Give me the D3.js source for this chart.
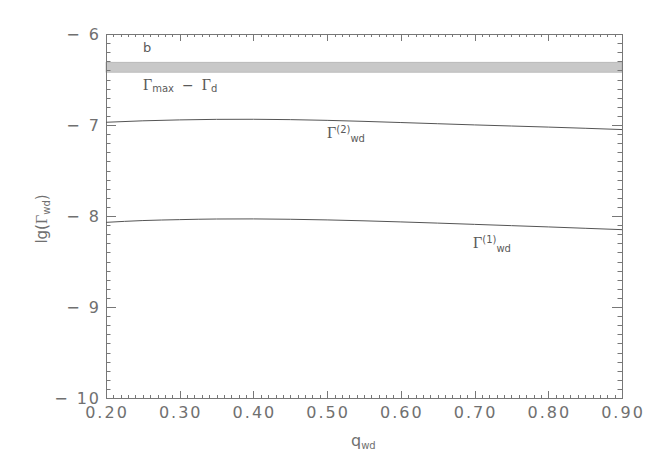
<!DOCTYPE html>
<html><head><meta charset="utf-8">
<script src="https://cdn.jsdelivr.net/npm/d3@7"></script>
<style>
body{margin:0;background:#fff;}
svg{display:block;}
.tl{font-family:"DejaVu Sans",sans-serif;font-size:16px;fill:#707070;letter-spacing:2px;}
</style></head><body>
<svg id="c" width="654" height="467"></svg>
<script>
const qValues = [0.20,0.25,0.30,0.35,0.40,0.45,0.50,0.55,0.60,0.65,0.70,0.75,0.80,0.85,0.90];
const gamma2 = [-6.970,-6.954,-6.944,-6.938,-6.937,-6.941,-6.949,-6.960,-6.973,-6.986,-6.999,-7.011,-7.023,-7.036,-7.050];
const gamma1 = [-8.070,-8.050,-8.040,-8.033,-8.032,-8.036,-8.043,-8.053,-8.065,-8.078,-8.092,-8.106,-8.120,-8.135,-8.150];
const bandRange = [-6.31, -6.42];
const xTicks = [0.20,0.30,0.40,0.50,0.60,0.70,0.80,0.90];
const yTicks = [-6,-7,-8,-9,-10];

const L=106,R=622,T=34,B=398;
const svg=d3.select("#c");
const x=d3.scaleLinear().domain([0.2,0.9]).range([L,R]);
const y=d3.scaleLinear().domain([-10,-6]).range([B,T]);
const axisColor="#777777";

// band
svg.append("rect").attr("x",x(0.2)).attr("width",x(0.9)-x(0.2))
  .attr("y",y(bandRange[0])).attr("height",y(bandRange[1])-y(bandRange[0]))
  .attr("fill","#c8c8c8").attr("stroke","#aaa").attr("stroke-width",0.6);

const xMinor=x.ticks(70);
const yMinor=y.ticks(40);
const isMajX=d=>xTicks.some(t=>Math.abs(t-d)<1e-6);
const isMajY=d=>yTicks.some(t=>Math.abs(t-d)<1e-6);
const tg=svg.append("g").attr("class","ticks");
function tl(x1,y1,x2,y2){tg.append("line").attr("x1",x1).attr("y1",y1).attr("x2",x2).attr("y2",y2).style("stroke",axisColor).style("stroke-width",1);}
xMinor.forEach(d=>{
  const len=isMajX(d)?7:3, px=Math.round(x(d))+0.5;
  tl(px,B,px,B-len); tl(px,T,px,T+len);
});
yMinor.forEach(d=>{
  const len=isMajY(d)?10:4.5, py=Math.round(y(d))+0.5;
  tl(L,py,L+len,py); tl(R,py,R-len,py);
});
// frame
svg.append("rect").attr("x",L+0.5).attr("y",T+0.5).attr("width",R-L).attr("height",B-T)
  .attr("fill","none").attr("stroke",axisColor).attr("stroke-width",1);

// tick labels
svg.selectAll(".xlab").data(xTicks).enter().append("text").attr("class","tl")
  .attr("x",d=>x(d)+1).attr("y",B+20).attr("text-anchor","middle").text(d=>d.toFixed(2));
svg.selectAll(".ylab").data(yTicks).enter().append("text").attr("class","tl")
  .attr("x",L-5).attr("y",d=>y(d)+6).attr("text-anchor","end").text(d=>"− "+Math.abs(d));

// curves
const line=d3.line().x(d=>x(d[0])).y(d=>y(d[1])).curve(d3.curveMonotoneX);
[gamma2,gamma1].forEach(s=>{
  svg.append("path").attr("d",line(qValues.map((q,i)=>[q,s[i]])))
    .attr("fill","none").attr("stroke","#555").attr("stroke-width",1);
});

// annotations
const sans='"DejaVu Sans",sans-serif', serif='"Liberation Serif","DejaVu Serif",serif';
const tc="#5a5a5a";
svg.append("text").attr("x",143).attr("y",52).attr("font-family",sans).attr("font-size",13).attr("fill",tc).text("b");

function gLabel(xp,yp,sup,sub){
  const t=svg.append("text").attr("x",xp).attr("y",yp).attr("fill",tc);
  t.append("tspan").attr("font-family",serif).attr("font-size",16).text("Γ");
  t.append("tspan").attr("font-family",sans).attr("font-size",10).attr("dy",-5).text(sup);
  t.append("tspan").attr("font-family",sans).attr("font-size",10).attr("dy",9).text(sub);
}
const t1=svg.append("text").attr("x",143).attr("y",90).attr("fill",tc);
t1.append("tspan").attr("font-family",serif).attr("font-size",16).text("Γ");
t1.append("tspan").attr("font-family",sans).attr("font-size",10).attr("dy",2).text("max");
t1.append("tspan").attr("font-family",sans).attr("font-size",14).attr("dy",-2).attr("dx",8).text("−");
t1.append("tspan").attr("font-family",serif).attr("font-size",16).attr("dx",8).text("Γ");
t1.append("tspan").attr("font-family",sans).attr("font-size",10).attr("dy",2).text("d");

gLabel(327,138,"(2)","wd");
gLabel(473,248,"(1)","wd");

// axis titles
const yt=svg.append("text").attr("transform","translate(47,219) rotate(-90)").attr("text-anchor","middle").attr("fill","#707070");
yt.append("tspan").attr("font-family",sans).attr("font-size",15).text("lg(");
yt.append("tspan").attr("font-family",serif).attr("font-size",16).text("Γ");
yt.append("tspan").attr("font-family",sans).attr("font-size",10).attr("dy",3).text("wd");
yt.append("tspan").attr("font-family",sans).attr("font-size",15).attr("dy",-3).text(")");

const xt=svg.append("text").attr("x",351).attr("y",446).attr("fill","#707070");
xt.append("tspan").attr("font-family",sans).attr("font-size",16).text("q");
xt.append("tspan").attr("font-family",sans).attr("font-size",10).attr("dy",3).text("wd");
</script>
</body></html>
